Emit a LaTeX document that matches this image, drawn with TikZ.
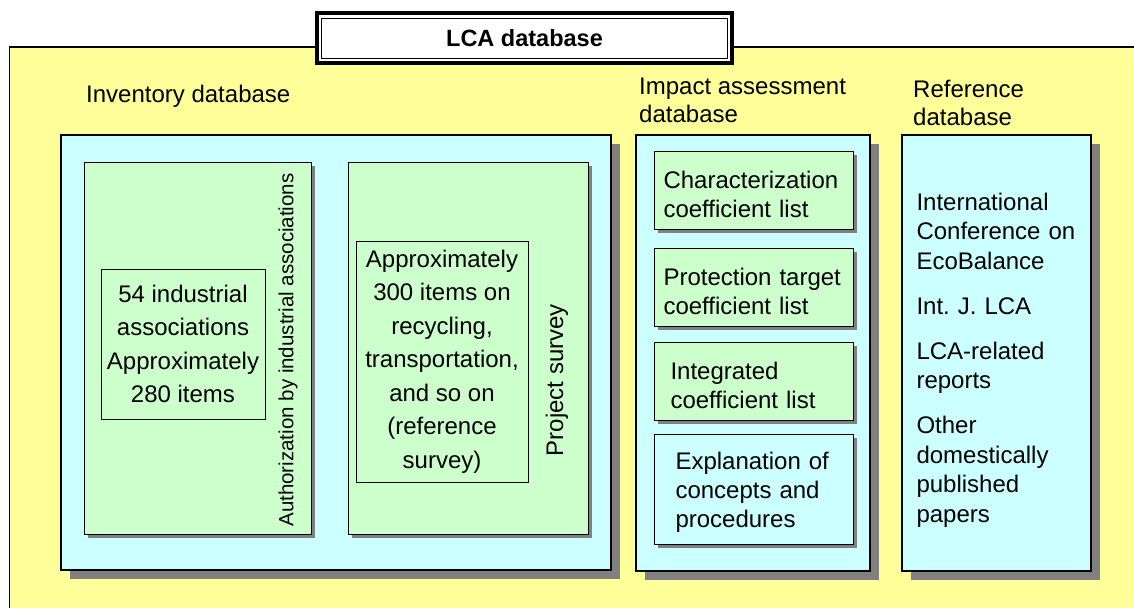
\documentclass[tikz,border=0pt]{standalone}
\usepackage{fontspec}
\setmainfont{Liberation Sans}
\frenchspacing
\usetikzlibrary{shadows,positioning}
\definecolor{lcayellow}{RGB}{255,255,153}
\definecolor{dbcyan}{RGB}{204,255,255}
\definecolor{listgreen}{RGB}{204,255,204}
\definecolor{shadowgray}{RGB}{128,128,128}

\begin{document}
\begin{tikzpicture}[x=1pt, y=-1pt,
        panel/.style={rectangle, draw=black, line width=1.2pt, fill=dbcyan, inner sep=0pt, drop shadow={shadow xshift=9pt, shadow yshift=-9pt, opacity=1, fill=shadowgray}},
        card/.style={rectangle, draw=black, line width=1pt, fill=listgreen, inner sep=0pt, align=left, font=\fontsize{24}{29}\selectfont, text height=26.4, drop shadow={shadow xshift=4pt, shadow yshift=-4pt, opacity=1, fill=shadowgray}},
        itembox/.style={rectangle, draw=black, line width=0.8pt, inner sep=0pt, align=center, font=\fontsize{24}{33.5}\selectfont},
        heading/.style={anchor=base west, align=left, inner sep=0pt, font=\fontsize{24}{28}\selectfont},
        sidelabel/.style={rotate=90, inner sep=0pt, font=\fontsize{24}{29}\selectfont}]

        \useasboundingbox (0,0) rectangle (1134,608);

        % Background
        \fill[lcayellow] (9.5,47) rectangle (1134,608);
        \draw[line width=1.2pt] (1134,47) -- (9.5,47) -- (9.5,608);

        % Title
        \node[draw=black, line width=4pt, fill=white, minimum width=415, minimum height=50] (frame) at (524.5,38) {};
        \node[draw=black, line width=1pt, minimum width=406, minimum height=40, font=\bfseries\fontsize{23.5}{28}\selectfont] (title) at (frame.center) {LCA database};

        % Inventory database
        \node[heading] (invhead) at (86,102) {Inventory database};
        \node[panel, minimum width=550, minimum height=435] (invdb) at (336,352.5) {};
        \node[card, minimum width=227, minimum height=372] (assoc) at (197.5,348) {};
        \node[card, minimum width=240, minimum height=372] (survey) at (468,348) {};
        \node[itembox, minimum width=164, minimum height=150] (associtems) at (183,344) {54 industrial\\associations\\Approximately\\280 items};
        \node[itembox, minimum width=172, minimum height=241] (surveyitems) at (442,361.5) {Approximately\\300 items on\\recycling,\\transportation,\\and so on\\(reference\\survey)};
        \node[sidelabel, font=\fontsize{20.5}{24}\selectfont] (assoclabel) at (288,350) {Authorization by industrial associations};
        \node[sidelabel] (surveylabel) at (557,380) {Project survey};

        % Impact assessment database
        \node[heading] (imphead) at (639,122) {Impact assessment\\database};
        \node[panel, minimum width=234, minimum height=436] (impdb) at (753,353) {};
        \node[card, minimum width=199, minimum height=78, text width=180] (charlist) at (753.5,190) {Characterization\\coefficient list};
        \node[card, minimum width=199, minimum height=78, text width=180] (protlist) at (753.5,287) {Protection target\\coefficient list};
        \node[card, minimum width=199, minimum height=78, text width=166] (intlist) at (753.5,381) {Integrated\\coefficient list};
        \node[card, fill=dbcyan, minimum width=199, minimum height=110, text width=156, text height=23.4] (explain) at (753.5,489) {Explanation of\\concepts and\\procedures};

        % Reference database
        \node[heading] (refhead) at (913,125) {Reference\\database};
        \node[panel, minimum width=189, minimum height=436] (refdb) at (996.5,353) {};
        \node[text width=160, align=left, inner sep=0pt, font=\fontsize{24}{29.5}\selectfont] (reflist) at (996.5,360) {International\\Conference on\\EcoBalance\\[15.5pt]Int. J. LCA\\[15.5pt]LCA-related\\reports\\[15.5pt]Other\\domestically\\published\\papers};

    \end{tikzpicture}
\end{document}
